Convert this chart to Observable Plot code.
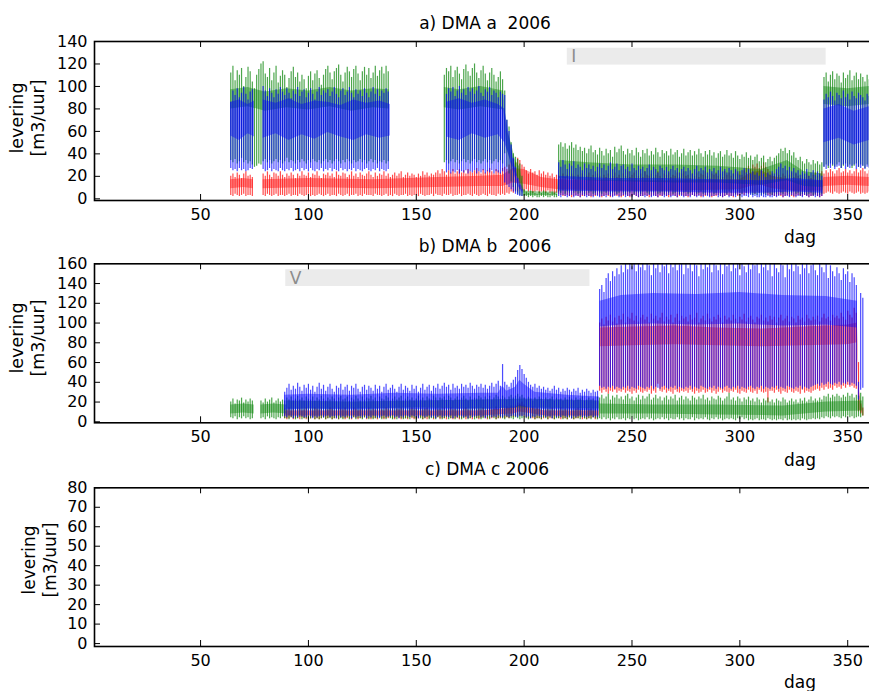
<!DOCTYPE html>
<html><head><meta charset="utf-8">
<script src="https://cdn.jsdelivr.net/npm/d3@7"></script>
<script src="https://cdn.jsdelivr.net/npm/@observablehq/plot@0.6"></script>
<style>
html,body{margin:0;padding:0;background:#fff;overflow:hidden;}
#wrap{position:relative;width:869px;height:691px;overflow:hidden;font-family:"DejaVu Sans",sans-serif;color:#000;}
.panel{position:absolute;left:0;width:880px;}
.panel svg{max-width:none !important;}
.t{position:absolute;white-space:pre;transform:translate(-50%,-50%);line-height:1;}
.r{transform:translate(-50%,-50%) rotate(-90deg);}
</style></head><body><div id="wrap"></div>
<script>
const _ = null;
// ---------- labels / ticks ----------
const titles = ["a) DMA a  2006", "b) DMA b  2006", "c) DMA c 2006"];
const yLabelLines = ["levering", "[m3/uur]"];
const xLabel = "dag";
const xTicks = [50, 100, 150, 200, 250, 300, 350];
const aYTicks = [0, 20, 40, 60, 80, 100, 120, 140];
const bYTicks = [0, 20, 40, 60, 80, 100, 120, 140, 160];
const cYTicks = [0, 10, 20, 30, 40, 50, 60, 70, 80];
const xDomain = [0.83, 365.2];
const aYDomain = [-1.5, 140];
const bYDomain = [-1, 160];
const cYDomain = [-1.5, 80];

// annotated periods
const aPeriodX = [220, 340], aPeriodY = [119, 134], aPeriodLabel = "I";
const bPeriodX = [89.5, 230.5], bPeriodY = [137, 154], bPeriodLabel = "V";

// ---------- panel a : daily peak (hi) and trough (lo), first day 64 ----------
const aStart = 64;
const aGreenHi = [
112,118,105,114,110,116,100,108,117,113,
104,98,110,115,120,122,111,108,116,105,
112,118,103,109,114,110,99,107,113,117,
108,112,104,110,106,98,109,113,105,111,
114,107,101,110,115,118,112,106,113,116,
119,110,104,112,117,113,108,115,118,111,
105,113,117,110,116,107,112,118,109,114,
117,111,118,113,
_,_,_,_,_,_,_,_,_,_,_,_,_,_,_,_,_,_,_,_,_,_,_,_,_,
110,116,113,118,108,114,117,111,106,115,
119,113,109,116,120,112,107,114,118,111,
105,112,116,110,104,108,113,106,
96,70,64,50,40,37,35,31,20,
8,6,5,7,6,5,4,6,5,7,6,5,4,6,5,4,
48,50,46,49,44,47,50,45,48,43,
46,42,45,40,44,47,41,43,39,45,
42,38,44,40,43,37,46,41,44,47,
42,39,44,40,43,38,45,41,37,43,
40,44,38,42,39,45,41,37,43,40,
42,38,44,39,41,43,37,40,44,38,
41,43,38,42,39,44,40,37,42,39,
43,38,41,36,40,42,37,39,43,38,
40,36,42,38,35,39,37,41,36,38,
34,37,39,33,36,38,32,35,37,33,
36,38,40,44,42,45,40,43,38,41,
36,34,37,33,31,35,32,30,34,31,
33,30,32,
108,112,104,110,113,106,111,109,103,112,
107,110,114,105,109,112,106,111,108,104,110,106];
const aGreenLo = [
34,32,35,31,33,36,32,34,31,33,
30,28,29,31,30,33,35,32,34,31,
33,35,32,34,31,33,36,32,34,33,
31,34,32,35,33,31,34,32,35,33,
32,34,31,33,35,32,34,31,33,35,
33,31,34,32,35,33,31,34,32,33,
35,32,34,31,33,35,32,34,31,33,
32,34,31,33,
_,_,_,_,_,_,_,_,_,_,_,_,_,_,_,_,_,_,_,_,_,_,_,_,_,
32,34,31,33,35,32,34,31,33,35,
32,34,31,33,35,32,34,31,33,35,
32,34,31,33,35,32,34,31,
40,28,22,15,10,6,4,3,2,
2,2,1,2,1,2,1,1,2,1,2,1,1,2,1,1,
6,5,7,4,6,5,7,5,6,4,
5,6,4,7,5,6,4,5,7,5,
4,6,5,7,4,5,6,4,5,7,
5,4,6,5,7,4,6,5,4,6,
7,5,4,6,5,7,4,5,6,4,
6,5,7,4,5,6,4,7,5,6,
4,5,6,7,4,5,6,4,5,7,
5,6,4,5,7,4,6,5,4,6,
5,7,4,6,5,4,6,5,7,4,
3,4,3,5,3,4,3,5,4,3,
5,4,6,5,4,6,5,4,5,6,
4,5,3,4,5,3,4,5,3,4,
5,3,4,
28,30,27,31,29,28,30,32,27,29,
31,28,30,27,29,31,28,30,29,27,30,28];
const aBlueHi = [
86,96,92,98,90,94,99,93,88,95,97,
_,_,_,_,
100,96,91,98,94,90,97,93,99,95,
92,98,94,89,96,93,99,91,95,97,
90,94,98,93,88,95,99,92,96,94,
97,91,95,99,93,90,96,98,92,95,
99,94,90,97,93,96,91,98,94,90,
95,99,93,97,91,96,94,98,95,
_,_,_,_,_,_,_,_,_,_,_,_,_,_,_,_,_,_,_,_,_,_,_,_,_,_,
93,98,95,99,91,96,100,94,97,92,
99,95,98,93,96,100,94,91,97,95,
99,92,96,94,90,95,93,
92,70,60,48,36,28,18,12,8,
_,_,_,_,_,_,_,_,_,_,_,_,_,_,_,_,
32,28,34,30,26,31,29,33,27,30,
28,25,31,27,30,26,29,24,28,31,
27,30,25,29,32,26,28,31,25,29,
30,26,28,24,31,27,25,29,26,28,
24,27,30,25,28,26,23,29,27,25,
28,24,26,29,25,27,23,26,28,24,
27,25,22,26,29,24,27,25,28,23,
26,24,27,22,25,28,24,26,23,27,
25,22,26,24,21,25,27,23,26,22,
24,21,23,20,25,22,19,23,21,24,
22,26,28,31,27,29,25,28,24,27,
23,25,21,24,22,26,20,23,25,21,
24,22,20,
88,93,90,95,91,87,94,92,89,96,
90,93,88,95,91,89,94,92,90,87,93,91];
const aBlueLo = [
27,25,26,24,27,25,26,24,25,27,26,
_,_,_,_,
26,24,25,27,24,26,25,24,27,25,
24,26,25,27,24,25,26,24,27,25,
26,24,27,25,24,26,25,27,24,26,
25,27,24,26,25,24,27,25,26,24,
26,25,27,24,26,25,24,26,27,25,
24,26,25,27,24,26,25,24,26,
_,_,_,_,_,_,_,_,_,_,_,_,_,_,_,_,_,_,_,_,_,_,_,_,_,_,
23,25,22,24,23,25,22,24,23,25,
22,24,23,25,22,24,23,25,22,24,
23,25,22,24,23,22,24,
14,12,10,8,6,4,3,2,2,
_,_,_,_,_,_,_,_,_,_,_,_,_,_,_,_,
2,1,3,2,1,2,3,1,2,2,
1,3,2,1,2,2,1,3,2,1,
2,2,1,3,2,1,2,3,1,2,
3,1,2,2,1,3,2,1,2,2,
1,2,3,1,2,2,1,3,2,1,
2,3,1,2,2,1,3,2,1,2,
2,1,3,2,1,2,2,1,3,2,
1,2,2,3,1,2,1,2,3,1,
2,2,1,3,2,1,2,2,1,3,
1,2,1,1,2,1,1,2,1,1,
2,1,2,3,1,2,2,1,3,2,
1,2,2,1,3,2,1,2,2,1,
2,1,2,
28,26,29,27,30,26,28,29,27,30,
26,28,27,29,30,26,28,27,29,26,28,27];
const aRedHi = [
20,22,19,23,21,18,22,24,20,21,19,
_,_,_,_,
22,20,24,21,19,23,22,20,24,21,
19,22,20,23,21,18,22,20,24,21,
20,23,19,22,21,24,20,18,22,21,
23,20,22,19,24,21,20,23,22,19,
21,24,20,22,19,23,21,20,22,24,
21,19,23,20,22,21,24,20,22,19,
21,23,20,22,24,19,21,23,20,22,
21,19,22,20,24,21,23,20,22,21,
23,25,22,26,24,21,25,23,26,22,
24,26,23,25,22,26,24,23,25,27,
24,22,26,23,25,27,24,22,26,25,
23,27,28,26,30,33,35,32,36,34,
30,28,25,22,26,23,24,21,25,22,
24,21,23,20,22,19,21,20,18,22,
19,21,18,22,20,17,21,19,22,18,
20,23,19,21,18,22,20,17,21,19,
22,18,20,23,19,21,18,22,20,24,
19,21,23,18,20,22,19,24,21,20,
22,19,21,24,20,18,22,21,23,19,
21,20,23,19,22,24,20,21,18,22,
20,23,19,22,21,24,20,18,22,21,
23,20,22,19,24,21,23,20,22,25,
22,24,21,25,27,29,26,30,28,31,
27,29,32,28,26,24,22,20,23,21,
19,22,20,18,21,23,19,22,20,18,
21,19,22,20,18,21,23,20,22,24,
22,25,23,26,24,22,25,27,23,24,
26,23,25,22,24,26,23,25,27,24,22,25];
const aRedLo = [
3,2,4,3,2,3,4,2,3,3,2,
_,_,_,_,
3,2,4,3,2,3,4,2,3,3,
2,3,4,2,3,3,2,4,3,2,
3,4,2,3,2,3,4,3,2,3,
4,2,3,3,2,4,3,2,3,4,
2,3,3,4,2,3,2,4,3,3,
3,2,4,3,3,2,3,4,2,3,
2,4,3,2,3,3,4,2,3,2,
3,3,2,4,3,2,3,3,4,2,
4,3,3,2,4,3,3,4,2,3,
3,4,2,3,3,4,3,2,4,3,
2,3,4,3,2,4,3,3,2,4,
3,4,3,5,4,6,5,7,6,8,
7,6,8,6,7,5,6,7,5,6,
6,5,7,5,6,4,5,4,3,2,
2,3,2,1,2,3,2,1,2,2,
3,2,1,2,2,3,2,1,2,3,
2,1,2,3,2,2,1,2,3,2,
1,2,3,2,1,2,2,3,2,1,
2,3,2,1,2,2,3,2,1,2,
3,2,1,2,3,2,2,1,2,3,
2,2,3,1,2,2,3,2,1,2,
2,3,2,1,2,3,2,2,1,3,
2,3,4,3,5,4,6,5,4,6,
5,6,4,5,3,2,3,2,2,3,
2,1,2,3,2,2,1,2,3,2,
2,3,2,1,2,2,3,2,1,2,
4,5,6,5,4,6,5,4,5,6,
5,4,6,5,4,5,6,4,5,4,
5,6];
// dense mid-range (where most hourly values sit), panel a
const aGreenCoreX  = [64,72,80,90,100,110,120,130,137.5,150,163,170,180,190.5,192,194,196,198,200,208,215.5,216.5,230,250,270,290,310,322,330,338.5,338.8,339,350,360];
const aGreenCoreLo = [80,82,78,81,79,82,78,81,80,_,81,79,82,79,45,32,22,16,3,3,3,18,16,15,14,14,12,16,11,10,_,84,82,84];
const aGreenCoreHi = [97,99,95,98,96,99,96,98,97,_,99,97,100,96,62,50,34,28,7,6,6,34,32,30,30,29,26,34,24,22,_,100,98,100];
const aBlueCoreX  = [64,68,72,75,76,79,85,91,97,103,109,115,121,127,133,138,150,164,170,176,182,188,191,193,195,197,199.5,205,216,240,265,290,310,325,338.5,338.8,339,346,353,360];
const aBlueCoreLo = [56,52,58,55,_,54,58,52,57,53,59,55,52,57,54,56,_,55,52,58,54,57,50,38,24,12,4,_,7,6,6,5,5,6,5,_,50,54,48,52];
const aBlueCoreHi = [86,88,84,87,_,88,85,89,84,87,86,83,88,85,87,84,_,86,89,85,88,84,80,58,36,20,9,_,20,18,18,17,16,18,16,_,80,84,78,82];
const aRedCoreX  = [64,70,74.5,75.5,79,100,130,160,180,190,195,200,208,216,240,270,300,305,310,315,325,338.5,339,350,360];
const aRedCoreLo = [9,10,9,_,9,10,9,10,11,11,14,13,10,8,7,7,8,11,12,9,7,7,11,12,11];
const aRedCoreHi = [17,18,17,_,17,18,17,19,20,21,27,26,19,17,16,16,17,23,25,20,16,16,19,20,19];

// ---------- panel b : first day 64 ----------
const bStart = 64;
const bGreenHi = [
20,23,18,22,21,24,19,22,20,23,21,
_,_,_,
21,19,23,20,22,24,19,21,23,20,22,21,
24,22,25,21,23,26,22,24,21,25,
23,22,25,21,24,22,26,23,21,24,
22,25,23,21,24,26,22,23,25,21,
24,22,26,23,21,25,22,24,23,26,
22,24,21,25,23,22,26,24,21,23,
25,22,24,26,21,23,25,22,24,21,
23,26,22,24,21,25,23,22,26,24,
21,24,23,25,22,26,24,21,23,25,
22,24,26,23,21,25,22,24,23,26,
24,22,25,23,26,22,24,27,25,23,
26,24,22,25,27,24,26,28,25,27,
24,22,25,23,21,24,22,25,23,21,
24,22,23,25,21,24,22,23,21,24,
22,25,23,21,24,22,23,25,21,22,
24,22,23,21,25,
24,27,23,25,28,22,26,24,27,23,
25,22,26,28,23,25,21,24,27,22,
26,23,25,28,22,24,27,23,25,21,
24,26,22,25,23,27,21,24,26,22,
25,23,21,26,24,22,25,23,27,22,
24,21,25,23,22,26,24,21,23,25,
29,22,24,21,25,23,20,24,22,25,
21,23,20,24,22,19,23,21,24,20,
22,19,23,21,20,24,22,19,21,23,
20,22,19,23,21,24,20,22,25,21,
23,21,24,22,26,25,28,24,27,25,
28,26,24,27,25,29,26,28,24,27,
26,29,25];
const bGreenLo = [
4,3,5,2,4,3,5,3,4,2,3,
_,_,_,
3,4,2,5,3,4,3,2,4,3,5,3,
3,2,4,3,2,3,4,2,3,3,
2,3,4,2,3,2,3,4,2,3,
3,2,3,4,2,3,2,3,4,2,
3,4,2,3,3,2,4,3,2,3,
2,3,3,4,2,3,2,4,3,2,
3,2,4,3,2,3,3,2,4,3,
2,4,3,2,3,4,2,3,3,2,
4,3,2,3,4,2,3,3,2,4,
3,2,3,4,2,3,4,2,3,3,
2,3,4,3,2,4,3,2,3,4,
3,2,4,3,3,2,4,3,2,3,
4,3,2,3,4,2,3,3,2,4,
3,2,4,3,2,3,3,4,2,3,
2,4,3,2,3,3,2,4,3,2,
3,2,4,3,2,
3,2,4,2,3,1,3,2,4,2,
2,3,1,3,2,4,2,3,1,2,
3,2,4,2,3,1,2,3,2,4,
2,3,1,3,2,2,4,2,3,1,
3,2,2,4,1,3,2,3,2,4,
2,1,3,2,4,2,3,1,2,3,
2,3,2,1,3,2,4,2,3,1,
2,1,2,3,1,2,2,1,3,2,
1,2,1,2,2,1,3,1,2,1,
2,1,2,1,3,2,1,2,2,3,
2,3,2,4,3,5,4,3,5,4,
5,4,3,5,4,6,4,5,3,4,
5,4,6];
const bBlueHi = [
_,_,_,_,_,_,_,_,_,_,_,_,_,_,_,_,_,_,_,_,_,_,_,_,_,
30,34,38,32,36,33,39,35,31,37,
34,38,32,36,30,35,39,33,37,31,
35,38,33,30,36,34,38,32,35,37,
31,36,34,38,33,30,35,37,32,36,
34,31,37,33,36,30,35,38,32,34,
37,33,30,35,38,32,36,34,31,37,
33,36,30,34,38,32,35,37,31,36,
34,38,33,36,39,35,37,32,38,34,
36,33,38,35,37,34,39,36,33,37,
35,38,34,37,33,36,39,35,38,41,
36,58,40,37,35,39,42,45,52,57,
53,48,44,40,37,35,38,34,36,33,
35,32,34,31,33,36,32,34,30,33,
31,34,32,30,33,31,34,29,32,30,
33,31,29,32,30,31,
134,138,131,145,150,142,152,147,155,149,
158,151,160,154,160,157,160,152,160,156,
160,153,160,158,148,160,155,160,151,160,
157,160,150,160,156,160,153,159,160,149,
160,155,160,152,160,158,147,160,154,160,
156,160,151,160,158,153,160,149,160,157,
160,152,160,155,160,148,160,157,151,160,
154,160,158,160,150,160,156,160,153,160,
147,160,155,151,160,158,146,160,154,160,
152,160,157,149,160,155,160,150,158,160,
153,148,160,156,151,160,145,158,152,147,
156,150,143,155,149,152,141,150,146,138,
40,130,125];
const bBlueLo = [
_,_,_,_,_,_,_,_,_,_,_,_,_,_,_,_,_,_,_,_,_,_,_,_,_,
5,4,6,5,3,5,4,6,5,4,
4,6,5,3,5,4,5,6,4,5,
6,4,5,5,3,6,4,5,4,6,
5,3,6,4,5,5,4,6,3,5,
4,6,5,4,3,5,6,4,5,5,
6,4,5,3,5,4,6,5,4,6,
5,4,3,6,5,4,5,6,4,5,
3,5,6,4,5,5,4,6,3,5,
4,6,5,4,5,3,6,4,5,5,
6,4,5,3,5,6,4,5,4,6,
5,4,6,5,4,5,6,5,4,6,
5,6,4,5,3,5,4,6,5,4,
6,4,5,5,3,6,4,5,4,6,
5,4,6,3,5,4,5,6,4,5,
4,5,6,4,5,4,
36,34,35,33,35,34,36,33,35,34,
33,35,34,36,33,35,34,33,36,35,
34,33,35,34,36,33,35,34,33,35,
36,34,33,35,34,36,33,35,34,33,
35,34,36,33,35,34,33,36,35,34,
33,35,34,36,33,35,34,33,35,36,
34,33,35,34,36,33,35,34,33,35,
36,34,33,35,34,36,33,35,34,33,
35,34,36,33,35,34,33,36,35,34,
33,35,34,36,33,35,34,33,35,36,
37,38,36,39,37,38,40,38,37,39,
38,40,37,39,38,40,37,39,38,36,
22,32,34];
const bRedHi = [
_,_,_,_,_,_,_,_,_,_,_,_,_,_,_,_,_,_,_,_,_,_,_,_,_,
13,12,14,11,13,12,14,13,11,12,
14,12,13,11,14,13,12,14,11,13,
12,14,13,11,12,14,13,12,14,11,
13,12,14,13,11,12,14,12,13,14,
11,13,12,14,13,12,11,14,13,12,
14,11,13,12,14,13,12,11,13,14,
12,13,11,14,12,13,14,12,11,13,
14,12,13,11,14,12,13,14,12,13,
11,14,12,13,14,12,11,13,14,12,
13,12,14,11,13,14,12,13,15,13,
14,16,13,15,14,16,15,17,19,18,
20,17,15,14,13,15,12,14,13,12,
14,12,13,11,14,12,13,12,14,11,
13,12,14,12,11,13,14,12,13,12,
14,12,13,11,13,12,
100,104,98,106,102,108,101,105,99,107,
103,109,100,106,104,110,102,107,101,105,
108,103,106,100,109,104,107,102,105,110,
101,106,103,108,100,105,109,102,107,104,
106,101,108,103,105,110,100,104,107,102,
109,104,101,106,103,108,105,100,107,103,
105,102,108,104,100,106,103,109,101,105,
107,103,100,106,104,108,102,105,101,107,
103,106,100,105,108,102,104,107,101,106,
104,100,107,103,105,101,108,104,102,106,
103,107,101,105,109,104,106,102,108,105,
107,104,110,106,103,112,108,105,115,110,
60,18,14];
const bRedLo = [
_,_,_,_,_,_,_,_,_,_,_,_,_,_,_,_,_,_,_,_,_,_,_,_,_,
3,2,3,4,2,3,3,2,4,3,
2,3,3,4,2,3,2,3,4,2,
3,4,2,3,3,2,4,3,2,3,
3,2,4,3,2,3,3,4,2,3,
2,3,3,2,4,3,2,3,3,4,
3,2,4,3,2,3,3,2,4,3,
2,3,3,4,2,3,2,3,4,2,
3,4,2,3,3,2,4,3,2,3,
3,2,3,4,2,3,3,2,4,3,
2,3,4,3,2,3,3,4,2,3,
3,4,3,4,3,5,4,5,6,5,
6,5,4,3,4,3,2,3,3,2,
3,4,2,3,3,2,4,3,2,3,
3,2,4,3,2,3,3,4,2,3,
2,3,3,4,2,3,
31,29,32,30,28,31,30,32,29,31,
30,32,29,31,30,28,31,29,32,30,
29,31,30,32,28,31,29,38,31,30,
32,29,31,30,28,32,30,29,31,30,
31,29,32,30,28,31,29,30,32,29,
30,32,29,31,28,30,32,29,31,30,
29,31,30,32,29,28,31,30,29,32,
30,29,31,28,32,30,29,30,19,31,
31,29,32,30,28,31,30,29,32,30,
29,31,30,28,32,29,31,30,29,31,
32,33,31,34,32,35,33,34,32,36,
34,35,33,36,34,37,35,36,34,33,
10,8,6];
const bGreenCoreX  = [64,70,74.9,76,78,84,89.9,90,120,150,180,200,234.9,235.2,260,290,320,340,357];
const bGreenCoreLo = [8,9,8,_,8,9,8,13,13,14,13,14,13,8,8,7,6,10,11];
const bGreenCoreHi = [17,18,17,_,17,18,17,21,20,21,22,23,21,18,17,17,16,20,21];
const bBlueCoreX  = [89,100,120,140,160,180,188,190,192,196,198,200,205,220,234.9,235.2,245,260,280,300,320,340,354.5];
const bBlueCoreLo = [12,13,12,13,12,13,12,14,13,14,16,15,13,12,11,96,98,99,98,99,97,98,95];
const bBlueCoreHi = [27,28,27,29,28,29,29,36,31,35,42,38,30,27,25,122,128,130,129,131,128,127,122];
const bRedCoreX  = [89,120,150,180,195,198,201,210,234.9,235.2,250,270,290,310,330,350,354.5,355.5,357];
const bRedCoreLo = [6,6,6,6,8,10,9,6,6,76,77,78,77,76,77,78,80,12,8];
const bRedCoreHi = [11,11,11,11,14,17,15,11,11,95,96,97,95,94,96,98,100,30,12];

// ---------- helpers ----------
const GREEN = "#008000", BLUE = "#0000ff", RED = "#ff0000";
function dailyRows(start, lo, hi) {
  const out = [];
  hi.forEach((h, i) => { if (h != null && lo[i] != null) out.push({day: start + i, lo: lo[i], hi: h}); });
  return out;
}
function bandRows(X, Lo, Hi) { return X.map((x, i) => ({day: x, lo: Lo[i], hi: Hi[i]})); }
function series(start, lo, hi, cx, clo, chi, color) {
  return [
    Plot.area(bandRows(cx, clo, chi), {x1: "day", y1: "lo", y2: "hi", fill: color, fillOpacity: 0.4}),
    Plot.ruleX(dailyRows(start, lo, hi), {x: "day", y1: "lo", y2: "hi", stroke: color, strokeWidth: 1.2, strokeOpacity: 0.7})
  ];
}
function frameMarks(yDomain, yTicks) {
  const [y0, y1] = yDomain;
  return [
    Plot.frame({stroke: "black", strokeWidth: 1.6}),
    Plot.ruleX(xTicks, {x: d => d, y1: y0, y2: y0, insetTop: -6, stroke: "black", strokeWidth: 1}),
    Plot.ruleX(xTicks, {x: d => d, y1: y1, y2: y1, insetBottom: -6, stroke: "black", strokeWidth: 1}),
    Plot.ruleY(yTicks, {y: d => d, x1: xDomain[0], x2: xDomain[0], insetRight: -6, stroke: "black", strokeWidth: 1})
  ];
}
function periodMarks(px, py, lab) {
  return [
    Plot.rect([0], {x1: px[0], x2: px[1], y1: py[0], y2: py[1], fill: "#ebebeb"}),
    Plot.text([lab], {x: px[0], y: (py[0] + py[1]) / 2, text: d => d, textAnchor: "start", dx: 4, fill: "#8c8c8c", fontSize: 17})
  ];
}
function makePlot(h, mt, mb, yDomain, yTicks, marks) {
  return Plot.plot({
    width: 880, height: h, marginLeft: 94, marginRight: 0, marginTop: mt, marginBottom: mb,
    x: {domain: xDomain, ticks: xTicks, tickSize: 0, tickPadding: 8, label: null},
    y: {domain: yDomain, ticks: yTicks, tickSize: 0, tickPadding: 7, label: null},
    style: {fontFamily: "DejaVu Sans", fontSize: "16px", color: "black", background: "transparent", overflow: "visible"},
    marks: [...marks, ...frameMarks(yDomain, yTicks)]
  });
}

const wrap = document.getElementById("wrap");
function place(node, top) {
  const d = document.createElement("div");
  d.className = "panel"; d.style.top = top + "px";
  d.appendChild(node); wrap.appendChild(d);
}
function label(txt, x, y, size, rotate) {
  const d = document.createElement("div");
  d.className = "t" + (rotate ? " r" : "");
  d.textContent = txt;
  d.style.left = x + "px"; d.style.top = y + "px"; d.style.fontSize = size + "px";
  wrap.appendChild(d);
}

// panel a
place(makePlot(230, 41, 30, aYDomain, aYTicks, [
  ...periodMarks(aPeriodX, aPeriodY, aPeriodLabel),
  ...series(aStart, aRedLo, aRedHi, aRedCoreX, aRedCoreLo, aRedCoreHi, RED),
  ...series(aStart, aGreenLo, aGreenHi, aGreenCoreX, aGreenCoreLo, aGreenCoreHi, GREEN),
  ...series(aStart, aBlueLo, aBlueHi, aBlueCoreX, aBlueCoreLo, aBlueCoreHi, BLUE)
]), 0);
// panel b
place(makePlot(230, 33.3, 37.7, bYDomain, bYTicks, [
  ...periodMarks(bPeriodX, bPeriodY, bPeriodLabel),
  ...series(bStart, bRedLo, bRedHi, bRedCoreX, bRedCoreLo, bRedCoreHi, RED),
  ...series(bStart, bGreenLo, bGreenHi, bGreenCoreX, bGreenCoreLo, bGreenCoreHi, GREEN),
  ...series(bStart, bBlueLo, bBlueHi, bBlueCoreX, bBlueCoreLo, bBlueCoreHi, BLUE)
]), 230);
// panel c (no data)
place(makePlot(231, 27.3, 45, cYDomain, cYTicks, []), 460);

// titles and axis labels
label(titles[0], 485, 23, 17);
label(titles[1], 485, 246, 17);
label(titles[2], 487, 469, 17);
label(xLabel, 800, 237, 17);
label(xLabel, 800, 460, 17);
label(xLabel, 800, 682, 17);
label(yLabelLines[0], 18, 118, 17.5, true);
label(yLabelLines[1], 39, 118, 17.5, true);
label(yLabelLines[0], 18, 338, 17.5, true);
label(yLabelLines[1], 39, 338, 17.5, true);
label(yLabelLines[0], 29, 560, 17, true);
label(yLabelLines[1], 50, 560, 17, true);
</script></body></html>
